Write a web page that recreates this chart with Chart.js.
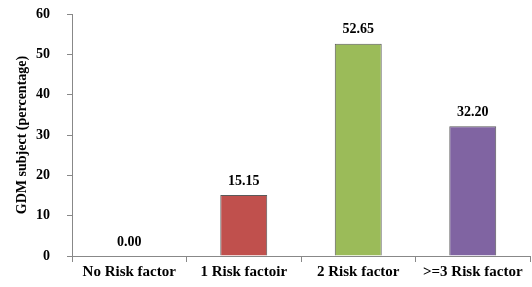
<!DOCTYPE html>
<html>
<head>
<meta charset="utf-8">
<script src="https://cdn.jsdelivr.net/npm/chart.js@4/dist/chart.umd.min.js"></script>
<style>
  html, body { margin: 0; padding: 0; background: #fff; }
  #wrap { width: 532px; height: 287px; }
</style>
</head>
<body>
<div id="wrap"><canvas id="gdmChart"></canvas></div>
<script>
// chart data
const categories = ["No Risk factor", "1 Risk factoir", "2 Risk factor", ">=3 Risk factor"];
const values = [0.00, 15.15, 52.65, 32.20];
const barColors = ["#4F81BD", "#C0504D", "#9BBB59", "#8064A2"];
const yTicks = [0, 10, 20, 30, 40, 50, 60];

const serif = "'Liberation Serif', 'Times New Roman', serif";

// draws the value above each bar
const valueLabels = {
  id: "valueLabels",
  afterDatasetsDraw(chart) {
    const ctx = chart.ctx;
    const meta = chart.getDatasetMeta(0);
    ctx.save();
    ctx.font = "bold 14px " + serif;
    ctx.fillStyle = "#000";
    ctx.textAlign = "center";
    ctx.textBaseline = "bottom";
    meta.data.forEach((bar, i) => {
      ctx.fillText(values[i].toFixed(2), bar.x, bar.y - 7);
    });
    ctx.restore();
  }
};

new Chart(document.getElementById("gdmChart"), {
  type: "bar",
  data: {
    labels: categories,
    datasets: [{
      data: values,
      backgroundColor: barColors,
      borderColor: "#5a5a5a",
      borderWidth: 1,
      barPercentage: 0.41,
      categoryPercentage: 1.0
    }]
  },
  options: {
    responsive: true,
    maintainAspectRatio: false,
    animation: false,
    layout: { padding: { left: 14, right: 2, top: 14, bottom: 0 } },
    plugins: {
      legend: { display: false },
      tooltip: { enabled: false }
    },
    scales: {
      x: {
        grid: { drawOnChartArea: false, tickLength: 6, color: "#888" },
        border: { color: "#888" },
        ticks: {
          color: "#000",
          font: { family: serif, size: 15, weight: "bold" },
          padding: 1,
          maxRotation: 0,
          autoSkip: false
        },
        afterFit(scale) { scale.height = 31; }
      },
      y: {
        min: 0,
        max: 60,
        afterBuildTicks(axis) {
          axis.ticks = yTicks.map(v => ({ value: v }));
        },
        grid: { drawOnChartArea: false, tickLength: 5, color: "#888" },
        border: { color: "#888" },
        ticks: {
          color: "#000",
          font: { family: serif, size: 14, weight: "bold" },
          padding: 17
        },
        title: {
          display: true,
          text: "GDM subject (percentage)",
          color: "#000",
          font: { family: serif, size: 14, weight: "bold" },
          padding: { top: 0, bottom: 10 }
        },
        afterFit(scale) {
          scale.width = 58;
          // tick padding would otherwise push the plot area down
          scale.paddingTop = 0;
          scale.paddingBottom = 0;
        }
      }
    }
  },
  plugins: [valueLabels]
});
</script>
</body>
</html>
